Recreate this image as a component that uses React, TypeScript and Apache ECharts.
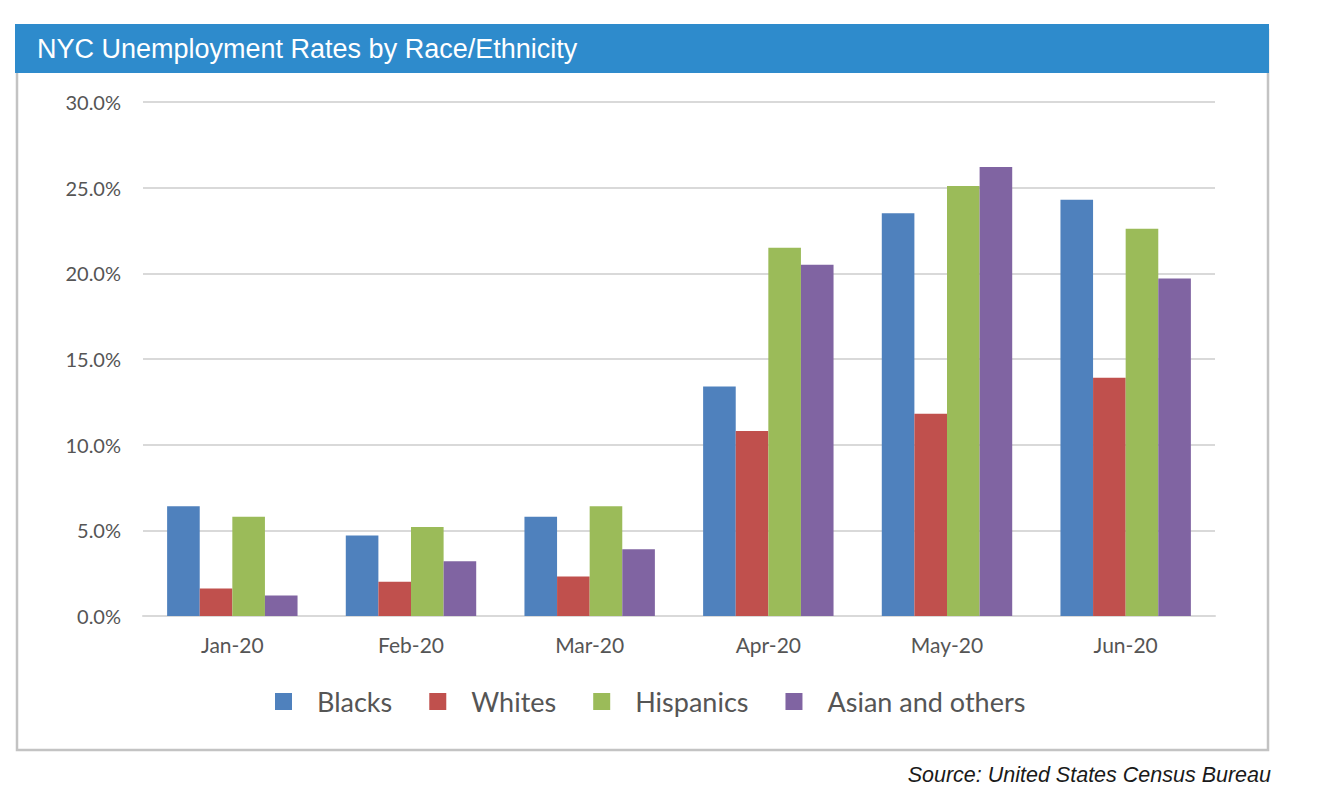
import React, { useEffect, useRef } from "react";
import * as echarts from "echarts";

const categories = ["Jan-20", "Feb-20", "Mar-20", "Apr-20", "May-20", "Jun-20"];
const blacks = [6.4, 4.7, 5.8, 13.4, 23.5, 24.3];
const whites = [1.6, 2.0, 2.3, 10.8, 11.8, 13.9];
const hispanics = [5.8, 5.2, 6.4, 21.5, 25.1, 22.6];
const asianOthers = [1.2, 3.2, 3.9, 20.5, 26.2, 19.7];
const seriesNames = ["Blacks", "Whites", "Hispanics", "Asian and others"];
const colors = ["#4F81BD", "#C0504D", "#9BBB59", "#8064A2"];
const titleText = "NYC Unemployment Rates by Race/Ethnicity";
const sourceText = "Source: United States Census Bureau";

const FONT = "Lato, 'Open Sans', sans-serif";

export default function App() {
  const ref = useRef<HTMLDivElement>(null);
  useEffect(() => {
    if (!ref.current) return;
    const chart = echarts.init(ref.current, null, { renderer: "svg" });
    const values = [blacks, whites, hispanics, asianOthers];
    chart.setOption({
      animation: false,
      backgroundColor: "#ffffff",
      color: colors,
      graphic: [
        {
          type: "rect",
          shape: { x: 17, y: 30, width: 1251, height: 720 },
          style: { fill: "none", stroke: "#C3C3C3", lineWidth: 2.5 },
          z: 1,
        },
        {
          type: "rect",
          shape: { x: 15, y: 24, width: 1254, height: 49 },
          style: { fill: "#2E8BCC" },
          z: 2,
        },
        {
          type: "text",
          x: 37,
          y: 49,
          style: {
            text: titleText,
            fill: "#ffffff",
            font: "27px 'Liberation Sans', Arial, sans-serif",
            verticalAlign: "middle",
            align: "left",
          },
          z: 3,
        },
        {
          type: "text",
          x: 1271,
          y: 775,
          style: {
            text: sourceText,
            fill: "#1a1a1a",
            font: "italic 21.5px 'Liberation Sans', Arial, sans-serif",
            verticalAlign: "middle",
            align: "right",
          },
          z: 3,
        },
      ],
      grid: { left: 143, right: 109, top: 102, bottom: 190, containLabel: false },
      legend: {
        left: 275,
        top: 688,
        padding: 0,
        itemWidth: 17,
        itemHeight: 17,
        itemGap: 37,
        icon: "rect",
        data: seriesNames,
        textStyle: {
          color: "#555555",
          fontFamily: FONT,
          fontSize: 27,
          padding: [0, 0, 0, 20],
        },
      },
      xAxis: {
        type: "category",
        data: categories,
        axisLine: { show: true, lineStyle: { color: "#D9D9D9", width: 2 } },
        axisTick: { show: false },
        axisLabel: { color: "#555555", fontFamily: FONT, fontSize: 21, margin: 18 },
      },
      yAxis: {
        type: "value",
        min: 0,
        max: 30,
        interval: 5,
        axisLine: { show: false },
        axisTick: { show: false },
        splitLine: { lineStyle: { color: "#D9D9D9", width: 2 } },
        axisLabel: {
          color: "#555555",
          fontFamily: FONT,
          fontSize: 20,
          margin: 22,
          formatter: (v: number) => v.toFixed(1) + "%",
        },
      },
      series: seriesNames.map((name, i) => ({
        name,
        type: "bar",
        data: values[i],
        barGap: "0%",
        barCategoryGap: "27%",
        itemStyle: { color: colors[i] },
      })),
    });
    return () => chart.dispose();
  }, []);
  return (
    <div
      ref={ref}
      style={{ position: "absolute", left: 0, top: 0, width: 1324, height: 806 }}
    />
  );
}
